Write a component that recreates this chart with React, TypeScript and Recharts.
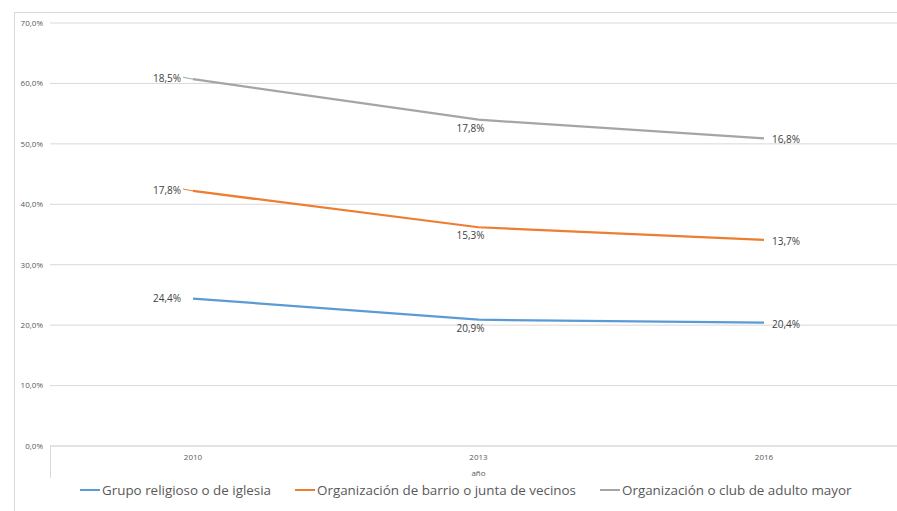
import { AreaChart, Area, XAxis, YAxis, CartesianGrid, LabelList, Legend } from 'recharts'

const years = ['2010', '2013', '2016']
const religioso = [24.4, 20.9, 20.4]
const barrio = [17.8, 15.3, 13.7]
const adultoMayor = [18.5, 17.8, 16.8]
const yTicks = [0, 10, 20, 30, 40, 50, 60, 70]

const series = [
  { key: 'religioso', name: 'Grupo religioso o de iglesia', color: '#5B9BD5', values: religioso },
  { key: 'barrio', name: 'Organización de barrio o junta de vecinos', color: '#ED7D31', values: barrio },
  { key: 'adulto', name: 'Organización o club de adulto mayor', color: '#A5A5A5', values: adultoMayor },
]

const data = years.map((y, i) => ({
  year: y,
  religioso: religioso[i],
  barrio: barrio[i],
  adulto: adultoMayor[i],
}))

const fmt = (v: number) => v.toFixed(1).replace('.', ',') + '%'

const FONT = '"Open Sans", "Noto Sans", sans-serif'

// etiquetas: izquierda en 2010, abajo en 2013, derecha en 2016
const makeLabel = (values: number[], color: string, leader: boolean) => (props: any) => {
  const { x, y, index } = props
  const txt = fmt(values[index])
  const common = { fontSize: 10, fill: '#404040', fontFamily: FONT }
  if (index === 0) {
    return (
      <g>
        {leader && <line x1={x - 10} y1={y - 2} x2={x} y2={y} stroke={color} strokeWidth={1} />}
        <text x={x - 12} y={y} dy={3} textAnchor="end" {...common}>{txt}</text>
      </g>
    )
  }
  if (index === 1) {
    return <text x={x - 8} y={y + 12} textAnchor="middle" {...common}>{txt}</text>
  }
  return <text x={x + 8} y={y + 5} textAnchor="start" {...common}>{txt}</text>
}

const LegendContent = () => (
  <div style={{ display: 'flex', alignItems: 'center', fontFamily: FONT, fontSize: 13.4, color: '#595959', whiteSpace: 'nowrap' }}>
    {series.map((s) => (
      <div key={s.key} style={{ display: 'flex', alignItems: 'center', marginRight: 24 }}>
        <div style={{ width: 20, height: 2, background: s.color, marginRight: 2 }} />
        <span>{s.name}</span>
      </div>
    ))}
  </div>
)

export default function App() {
  return (
    <div style={{ position: 'fixed', left: 0, top: 0, width: 897, height: 511, overflow: 'hidden', background: '#fff' }}>
      <div style={{ position: 'absolute', left: 14, top: 12, width: 900, height: 520, borderLeft: '1px solid #D9D9D9', borderTop: '1px solid #D9D9D9' }} />
      <div style={{ position: 'absolute', left: 50, top: 446, width: 1, height: 32, background: '#D9D9D9' }} />
      <AreaChart width={920} height={511} data={data} margin={{ top: 23, right: 13, left: 0, bottom: 11 }}>
        <CartesianGrid vertical={false} stroke="#D9D9D9" />
        <XAxis
          dataKey="year"
          padding={{ left: 143, right: 143 }}
          axisLine={{ stroke: '#D9D9D9' }}
          tickLine={false}
          tickSize={0}
          tickMargin={8}
          height={36}
          tick={{ fontSize: 8, fill: '#595959', fontFamily: FONT }}
          label={{ value: 'año', position: 'insideBottom', offset: 6, fontSize: 8, fill: '#595959', fontFamily: FONT }}
        />
        <YAxis
          width={50}
          domain={[0, 70]}
          ticks={yTicks}
          axisLine={false}
          tickLine={false}
          tickSize={0}
          tickMargin={7}
          tickFormatter={(v: number) => fmt(v)}
          tick={{ fontSize: 8, fill: '#595959', fontFamily: FONT }}
        />
        <Legend content={<LegendContent />} wrapperStyle={{ position: 'absolute', left: 80, top: 481, width: 'auto' }} />
        {series.map((s) => (
          <Area
            key={s.key}
            type="linear"
            dataKey={s.key}
            name={s.name}
            stackId="1"
            stroke={s.color}
            strokeWidth={2.25}
            fill="none"
            dot={false}
            activeDot={false}
            isAnimationActive={false}
          >
            <LabelList content={makeLabel(s.values, s.color, s.key !== 'religioso')} />
          </Area>
        ))}
      </AreaChart>
    </div>
  )
}
